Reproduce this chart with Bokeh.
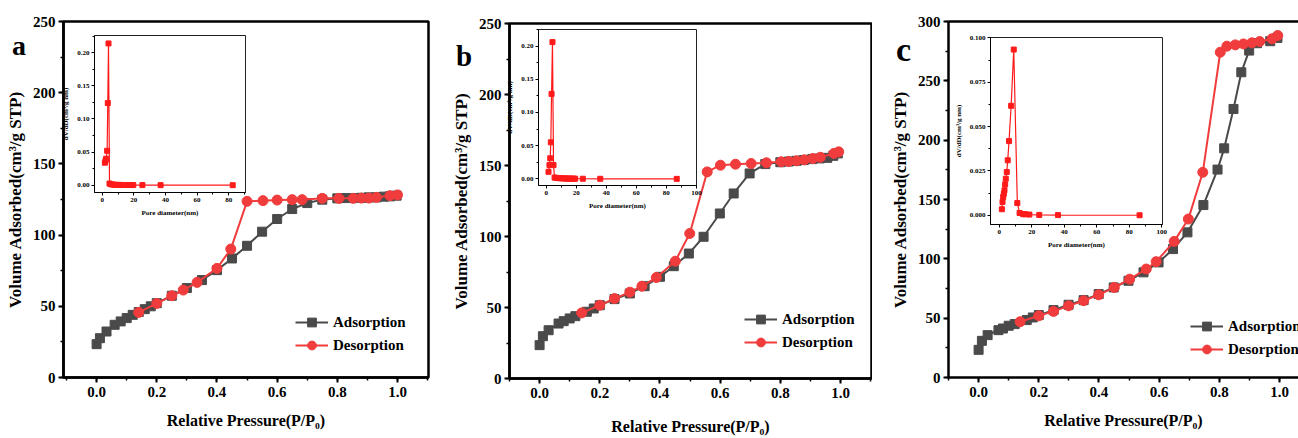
from bokeh.plotting import figure
from bokeh.models import (Range1d, SingleIntervalTicker, FixedTicker, Div,
                          GridBox, PrintfTickFormatter, LinearAxis)
from bokeh.layouts import row
from bokeh.embed import file_html
from bokeh.resources import INLINE

FONT = "Liberation Serif"
GRAY = "#4a4a4a"
RED = "#f03c3c"
IRED = "#ff1a1a"

# ---------------- data: panel a ----------------
a_ads_x = [0.0, 0.011, 0.033, 0.06, 0.08, 0.10, 0.12, 0.14, 0.16, 0.18, 0.20, 0.25, 0.30, 0.35, 0.40,
           0.45, 0.50, 0.55, 0.60, 0.65, 0.70, 0.75, 0.80, 0.82, 0.85, 0.88, 0.905, 0.93, 0.955, 0.975, 0.997]
a_ads_y = [23.4, 27.6, 32.3, 37.0, 39.4, 41.7, 44.0, 46.0, 48.0, 50.0, 52.2, 57.4, 62.8, 68.4, 75.4,
           83.6, 92.5, 102.4, 111.3, 118.3, 122.5, 124.9, 125.8, 126.0, 126.0, 126.2, 126.5, 126.5, 127.0, 127.2, 127.7]
a_des_x = [0.14, 0.20, 0.25, 0.288, 0.334, 0.40, 0.446, 0.50, 0.553, 0.60, 0.65, 0.683, 0.75, 0.805,
           0.853, 0.88, 0.905, 0.93, 0.975, 1.0]
a_des_y = [45.7, 52.0, 57.4, 61.4, 66.8, 76.6, 90.2, 123.7, 124.2, 124.6, 124.9, 124.9, 125.8, 125.8,
           125.8, 126.0, 126.0, 126.5, 127.7, 128.2]
a_psd_x = [1.67, 2.08, 2.5, 3.1, 3.5, 3.96, 4.6, 5.4, 6.5, 7.7, 9.2, 10.6, 12.1, 15.4, 17.5, 19.6, 25.4, 36.9, 82.5]
a_psd_y = [0.034, 0.037, 0.040, 0.052, 0.124, 0.214, 0.0025, 0.0015, 0.001, 0.0008, 0.0006, 0.0005,
           0.0004, 0.0003, 0.0003, 0.0002, 0.0002, 0.0001, 0.0]

# ---------------- data: panel b ----------------
b_ads_x = [0.0, 0.011, 0.03, 0.063, 0.08, 0.10, 0.119, 0.157, 0.18, 0.20, 0.249, 0.30, 0.349, 0.40, 0.446,
           0.496, 0.545, 0.599, 0.645, 0.698, 0.75, 0.80, 0.828, 0.854, 0.878, 0.906, 0.931, 0.956, 0.976, 0.991]
b_ads_y = [23.5, 29.8, 34.0, 38.7, 40.4, 42.3, 43.9, 47.0, 49.3, 51.6, 55.9, 59.9, 65.0, 71.6, 79.1,
           88.0, 99.8, 116.2, 130.3, 144.4, 151.0, 152.3, 152.8, 153.3, 153.8, 154.5, 155.0, 155.4, 156.8, 158.5]
b_des_x = [0.14, 0.20, 0.249, 0.30, 0.34, 0.388, 0.451, 0.499, 0.557, 0.601, 0.651, 0.703, 0.754, 0.803,
           0.828, 0.854, 0.88, 0.908, 0.933, 0.978, 0.994]
b_des_y = [46.2, 51.6, 56.3, 60.8, 65.0, 71.1, 82.6, 102.1, 145.5, 150.2, 150.9, 151.4, 151.9, 152.6,
           152.8, 153.3, 154.0, 154.9, 155.8, 158.5, 159.6]
b_psd_x = [1.56, 2.2, 2.7, 3.1, 3.6, 4.2, 4.9, 5.6, 6.7, 7.8, 8.9, 10.4, 11.6, 12.7, 13.8, 14.9, 16.0,
           17.1, 18.2, 19.3, 24.4, 36.0, 86.9]
b_psd_y = [0.0106, 0.0207, 0.031, 0.055, 0.128, 0.206, 0.0207, 0.002, 0.0015, 0.0012, 0.001, 0.0008,
           0.0007, 0.0006, 0.0005, 0.0005, 0.0004, 0.0004, 0.0003, 0.0003, 0.0002, 0.0001, 0.0]

# ---------------- data: panel c ----------------
c_ads_x = [0.0, 0.011, 0.03, 0.066, 0.081, 0.10, 0.12, 0.16, 0.18, 0.20, 0.249, 0.299, 0.349, 0.399,
           0.449, 0.498, 0.548, 0.598, 0.646, 0.694, 0.747, 0.794, 0.816, 0.847, 0.873, 0.899, 0.925, 0.969, 0.993]
c_ads_y = [23.3, 30.9, 35.7, 39.9, 41.3, 43.6, 45.0, 48.4, 50.6, 52.6, 56.8, 61.3, 65.2, 70.3,
           75.9, 81.5, 88.6, 97.0, 108.2, 122.3, 145.3, 175.2, 193.1, 226.3, 257.2, 275.5, 281.7, 283.4, 286.2]
c_des_x = [0.138, 0.20, 0.249, 0.299, 0.349, 0.399, 0.451, 0.502, 0.557, 0.59, 0.65, 0.697, 0.745,
           0.803, 0.825, 0.853, 0.88, 0.908, 0.934, 0.975, 0.994]
c_des_y = [47.0, 52.0, 55.7, 60.4, 64.7, 69.7, 75.9, 82.9, 91.4, 97.6, 114.7, 133.5, 172.9,
           274.1, 279.2, 280.3, 281.1, 282.0, 283.1, 285.4, 288.2]
c_psd_x = [1.6, 2.0, 2.4, 2.8, 3.2, 3.6, 4.0, 4.6, 5.2, 6.0, 7.3, 8.9, 11.1, 12.5, 14.7, 16.1, 18.5,
           24.6, 36.1, 86.3]
c_psd_y = [0.0034, 0.0075, 0.0103, 0.0122, 0.0141, 0.0174, 0.0206, 0.0244, 0.031, 0.0418, 0.0617,
           0.0934, 0.0069, 0.0013, 0.0006, 0.0006, 0.0004, 0.0002, 0.0001, 0.0]

series_names = ["Adsorption", "Desorption"]
panel_letters = ["a", "b", "c"]
x_title = "Relative Pressure(P/P\u2080)"
y_title = "Volume Adsorbed(cm\u00b3/g STP)"
inset_x_title = "Pore diameter(nm)"
inset_y_title = "dV/dD(cm\u00b3/g nm)"


def style_axis(ax, lab_size, tick_size, line_w, tout, mout, lab_standoff, tick_standoff):
    ax.axis_line_width = line_w
    ax.axis_line_color = "black"
    ax.major_tick_line_width = max(1, line_w - 0.5)
    ax.minor_tick_line_width = max(1, line_w - 1)
    ax.major_tick_out = tout
    ax.major_tick_in = 0
    ax.minor_tick_out = mout
    ax.minor_tick_in = 0
    ax.major_label_text_font = FONT
    ax.major_label_text_font_style = "bold"
    ax.major_label_text_font_size = tick_size
    ax.major_label_text_color = "black"
    ax.major_label_standoff = tick_standoff
    ax.axis_label_text_font = FONT
    ax.axis_label_text_font_style = "bold"
    ax.axis_label_text_font_size = lab_size
    ax.axis_label_text_color = "black"
    ax.axis_label_standoff = lab_standoff


def main_fig(width, borders, xr, yr, ads, des, legend_loc, xlab_standoff=12, open_right=False):
    bl, br, bt, bb = borders
    p = figure(width=width, height=438, x_range=Range1d(*xr), y_range=Range1d(*yr),
               output_backend="svg", toolbar_location=None,
               min_border_left=bl, min_border_right=br, min_border_top=bt, min_border_bottom=bb,
               x_axis_label=x_title, y_axis_label=y_title)
    p.xgrid.visible = False
    p.ygrid.visible = False
    p.background_fill_color = "white"
    p.border_fill_color = "white"
    xa = p.below[0]
    ya = p.left[0]
    xa.ticker = SingleIntervalTicker(interval=0.2, num_minor_ticks=2)
    xa.formatter = PrintfTickFormatter(format="%.1f")
    ya.ticker = SingleIntervalTicker(interval=50, num_minor_ticks=2)
    style_axis(xa, "16px", "15px", 2.5, 5, 3, xlab_standoff, 4)
    style_axis(ya, "17px", "15px", 2.5, 5, 3, 5, 3)

    p.line(ads[0], ads[1], color=GRAY, line_width=2, legend_label=series_names[0])
    p.scatter(ads[0], ads[1], marker="square", size=9, color=GRAY, legend_label=series_names[0])
    p.line(des[0], des[1], color=RED, line_width=2, legend_label=series_names[1])
    p.scatter(des[0], des[1], marker="circle", size=10, color=RED, legend_label=series_names[1])

    lg = p.legend[0]
    lg.location = legend_loc
    lg.padding = 0
    lg.margin = 0
    lg.spacing = 1
    lg.glyph_width = 33
    lg.glyph_height = 22
    lg.label_height = 22
    lg.label_standoff = 5
    lg.border_line_color = None
    lg.background_fill_alpha = 0
    lg.label_text_font = FONT
    lg.label_text_font_style = "bold"
    lg.label_text_font_size = "15px"
    lg.label_text_color = "black"

    if open_right:
        p.outline_line_color = None
        top = LinearAxis(ticker=FixedTicker(ticks=[]), major_label_text_font_size="0px",
                         major_tick_line_color=None, minor_tick_line_color=None,
                         axis_line_width=2.5, axis_line_color="black")
        p.add_layout(top, "above")
    else:
        p.outline_line_color = "black"
        p.outline_line_width = 2.5
        p.outline_line_alpha = 1.0
    return p


def inset_fig(fw, fh, xr, yr, x, y, yint, yfmt):
    bl, br, bt, bb = 36, 10, 4, 32
    q = figure(width=bl + fw + br, height=bt + fh + bb, x_range=Range1d(*xr), y_range=Range1d(*yr),
               output_backend="svg", toolbar_location=None,
               min_border_left=bl, min_border_right=br, min_border_top=bt, min_border_bottom=bb,
               x_axis_label=inset_x_title, y_axis_label=inset_y_title)
    q.xgrid.visible = False
    q.ygrid.visible = False
    q.border_fill_color = None
    q.border_fill_alpha = 0
    q.background_fill_color = "white"
    q.outline_line_color = "#222222"
    q.outline_line_width = 1
    xa = q.below[0]
    ya = q.left[0]
    xa.ticker = SingleIntervalTicker(interval=20, num_minor_ticks=2)
    ya.ticker = SingleIntervalTicker(interval=yint, num_minor_ticks=2)
    ya.formatter = PrintfTickFormatter(format=yfmt)
    style_axis(xa, "7px", "7px", 1, 3, 2, 4, 2)
    style_axis(ya, "7px", "7px", 1, 3, 2, 4, 2)
    q.line(x, y, color=IRED, line_width=1.2)
    q.scatter(x, y, marker="square", size=5, color=IRED)
    return q, (36, 4)


def letter_div(text, size_px, w, h):
    html = ("<div style=\"font-family:'Liberation Serif',serif;font-weight:bold;"
            f"font-size:{size_px}px;line-height:{size_px}px;color:black;margin:0;padding:0\">{text}</div>")
    return Div(text=html, width=w, height=h, margin=0)


def panel(main, main_w, items):
    # items: (model, x, y, w, h) in panel pixels
    xs = sorted({0, main_w} | {it[1] for it in items} | {it[1] + it[3] for it in items})
    ys = sorted({0, 438} | {it[2] for it in items} | {it[2] + it[4] for it in items})
    cols = [f"{xs[i + 1] - xs[i]}px" for i in range(len(xs) - 1)]
    rows = [f"{ys[i + 1] - ys[i]}px" for i in range(len(ys) - 1)]
    children = [(main, 0, 0, len(rows), len(cols))]
    for m, x, y, w, h in items:
        c0 = xs.index(x)
        c1 = xs.index(x + w)
        r0 = ys.index(y)
        r1 = ys.index(y + h)
        children.append((m, r0, c0, r1 - r0, c1 - c0))
    return GridBox(children=children, rows=rows, cols=cols, spacing=0)


def inset_item(q, off, frame_left, frame_top):
    return (q, frame_left - off[0], frame_top - off[1], q.width, q.height)


# panel a
pa = main_fig(430, (63, 2, 21, 61), (-0.11, 1.103), (0, 250),
              (a_ads_x, a_ads_y), (a_des_x, a_des_y), (232, 21))
ia, oa = inset_fig(151, 157, (-4.9, 90.6), (-0.011, 0.226), a_psd_x, a_psd_y, 0.05, "%.2f")
ga = panel(pa, 430, [inset_item(ia, oa, 94, 35),
                     (letter_div(panel_letters[0], 28, 22, 30), 12, 32, 22, 30)])

# panel b
pb = main_fig(442, (79, 1, 23, 60), (-0.10, 1.103), (0, 250),
              (b_ads_x, b_ads_y), (b_des_x, b_des_y), (235, 25), xlab_standoff=17)
ib, ob = inset_fig(158, 156, (-5.1, 100.05), (-0.010, 0.225), b_psd_x, b_psd_y, 0.05, "%.2f")
gb = panel(pb, 442, [inset_item(ib, ob, 108, 29),
                     (letter_div(panel_letters[1], 29, 22, 31), 26, 42, 22, 31)])

# panel c
pc = main_fig(426, (76, 0, 21, 61), (-0.10, 1.063), (0, 300),
              (c_ads_x, c_ads_y), (c_des_x, c_des_y), (242, 17), open_right=True)
ic, oc = inset_fig(175, 187, (-5.4, 100.4), (-0.0052, 0.1002), c_psd_x, c_psd_y, 0.025, "%.3f")
gc = panel(pc, 426, [inset_item(ic, oc, 115, 37),
                     (letter_div(panel_letters[2], 34, 24, 36), 24, 33, 24, 36)])

layout = row(ga, gb, gc, spacing=0)

open("out.html", "w").write(file_html(layout, INLINE))
